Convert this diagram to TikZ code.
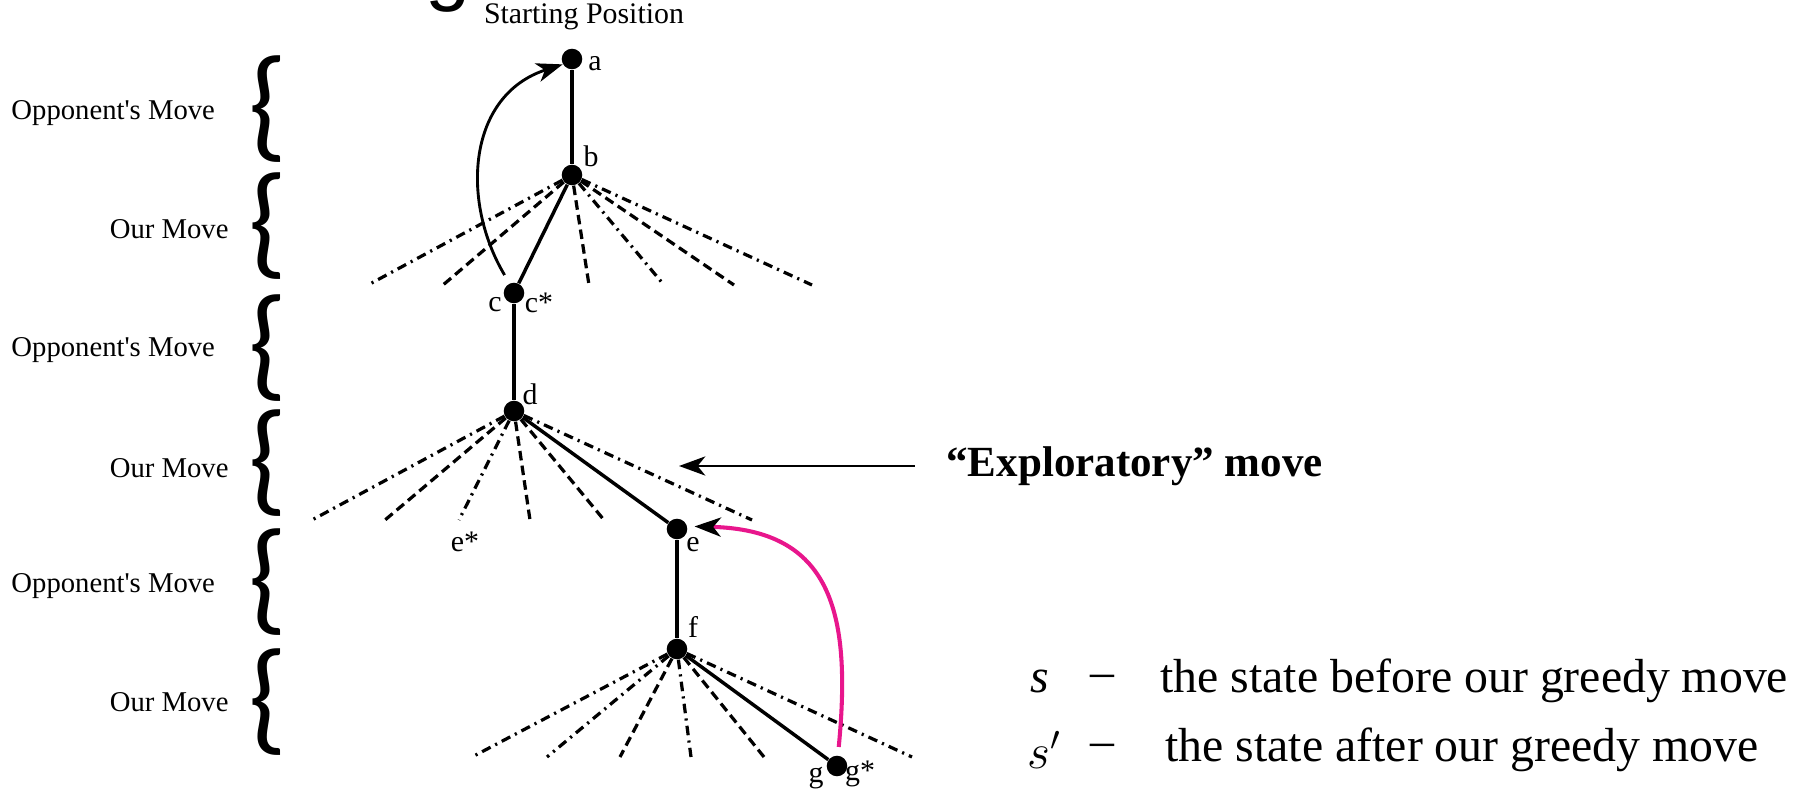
\documentclass[tikz,border=0pt]{standalone}
\usepackage{fontspec}
\setmainfont{Liberation Serif}
\newfontfamily\bracefont{Carlito}
\newfontfamily\titlefont{Liberation Sans}
\usepackage{xcolor}
\usepackage{tikz}
\usetikzlibrary{arrows.meta}
\definecolor{explpink}{RGB}{232,22,140}

\begin{document}
\begin{tikzpicture}[
  x=0.014706cm, y=-0.014706cm,
  state/.style={circle, fill, inner sep=0pt, minimum size=8.6pt},
  lbl/.style={font=\fontsize{12.5}{14}\selectfont, inner sep=0pt},
  movetxt/.style={font=\fontsize{12}{14}\selectfont, inner sep=0pt},
  brace/.style={font=\bracefont\fontsize{52}{52}\selectfont, inner sep=0pt},
  tree/.style={line width=1.45pt},
  alt/.style={line width=1.35pt, dash pattern=on 4pt off 2.2pt},
  altdot/.style={line width=1.35pt, dash pattern=on 4pt off 2.2pt on 0.9pt off 2.2pt},
  arr/.style={-{Stealth[length=11pt, width=8pt, inset=3.2pt, color=black]}, line width=1.2pt}]
\useasboundingbox (0,0) rectangle (1804,791);
% heading
\node[font=\titlefont\fontsize{34}{34}\selectfont, anchor=base, inner sep=0pt] (ttl) at (448,-4) {g};
\node[lbl] (start) at (584,17) {Starting Position};
% move levels
\foreach \y [count=\i] in {109,226,348,463,582,702}
  \node[brace] (br\i) at (268,\y) {\{};
\foreach \y [count=\i] in {113,350,586}
  \node[movetxt, anchor=west] (opp\i) at (11,\y) {Opponent\textquotesingle s Move};
\foreach \y [count=\i] in {229,468,702}
  \node[movetxt, anchor=east] (our\i) at (229,\y) {Our Move};
% states
\node[state] (a) at (572,59) {};
\node[state] (b) at (572,175) {};
\node[state] (c) at (514,293) {};
\node[state] (d) at (514,411) {};
\node[state] (e) at (677,529) {};
\node[state] (f) at (677,649) {};
\node[state] (g) at (837,766) {};
\node[lbl] (la) at (595,64) {a};
\node[lbl] (lb) at (591,156) {b};
\node[lbl] (lc) at (495,305) {c};
\node[lbl] (lcs) at (539,303) {c*};
\node[lbl] (ld) at (530,394) {d};
\node[lbl] (les) at (465,542) {e*};
\node[lbl] (le) at (693,545) {e};
\node[lbl] (lf) at (693,627) {f};
\node[lbl] (lg) at (816,778) {g};
\node[lbl] (lgs) at (860,774) {g*};
% other moves
\foreach \x/\s [count=\i] in {368/altdot,443/alt,589/alt,664/altdot,734/alt,812/altdot} {
  \coordinate (bm\i) at (\x,285);
  \draw[\s] (b) -- (bm\i);
}
\foreach \x/\s [count=\i] in {312/altdot,385/alt,459/altdot,530/alt,604/alt,752/altdot} {
  \coordinate (dm\i) at (\x,520);
  \draw[\s] (d) -- (dm\i);
}
\foreach \x/\s [count=\i] in {472/altdot,547/altdot,620/alt,691/altdot,764/alt,912/altdot} {
  \coordinate (fm\i) at (\x,757);
  \draw[\s] (f) -- (fm\i);
}
% game line
\draw[tree] (a) -- (b);
\draw[tree] (b) -- (c);
\draw[tree] (c) -- (d);
\draw[tree] (d) -- (e);
\draw[tree] (e) -- (f);
\draw[tree] (f) -- (g);
% backups
\draw[arr, shorten <=4pt] (c.115) .. controls (460,200) and (468,95) .. (a.210);
\draw[arr, explpink, line width=1.7pt, shorten <=3.5pt, shorten >=3pt] (g.85) .. controls (852,610) and (830,530) .. (e.15);
% exploratory
\node[font=\bfseries\fontsize{18}{20}\selectfont, anchor=west, inner sep=0pt] (expl) at (946,466) {“Exploratory” move};
\coordinate (explTip) at (679,466);
\draw[arr, shorten <=13pt] (expl.west) -- (explTip);
% legend
\node[font=\fontsize{20}{22}\selectfont, inner sep=0pt] (s1) at (1040,681) {\textit{s}};
\node[font=\fontsize{20}{22}\selectfont, inner sep=0pt] (d1) at (1102,681) {–};
\node[font=\fontsize{20}{22}\selectfont, anchor=west, inner sep=0pt] (t1) at (1160,681) {the state before our greedy move};
\node[font=\fontsize{20}{22}\selectfont, inner sep=0pt] (s2) at (1044,750) {$s'$};
\node[font=\fontsize{20}{22}\selectfont, inner sep=0pt] (d2) at (1102,750) {–};
\node[font=\fontsize{20}{22}\selectfont, anchor=west, inner sep=0pt] (t2) at (1165,750) {the state after our greedy move};
\end{tikzpicture}
\end{document}
